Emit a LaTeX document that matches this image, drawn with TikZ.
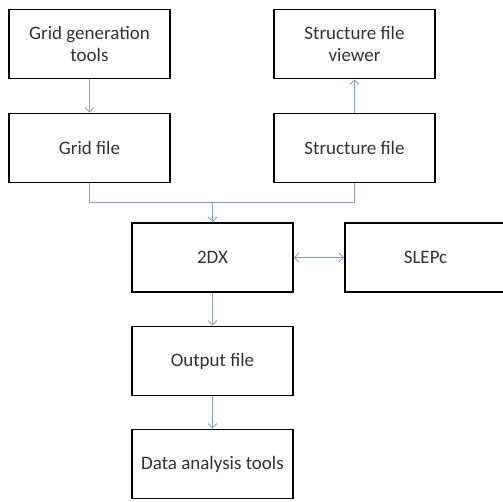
\documentclass[tikz,border=0pt]{standalone}
\usepackage{fontspec}
\setmainfont{Carlito}
\usetikzlibrary{arrows.meta}
\definecolor{conn}{RGB}{135,162,205}
\definecolor{txt}{RGB}{50,50,50}
\tikzset{
  box/.style={draw=black, line width=1.8pt, minimum width=161pt, minimum height=69pt,
    inner sep=2pt, align=center, font=\fontsize{19}{22}\selectfont, text=txt},
  conn/.style={draw=conn, line width=0.8pt},
  arr/.style={conn, -{Straight Barb[length=4.5pt,width=9pt,line width=0.8pt]}},
  darr/.style={conn, {Straight Barb[length=4.5pt,width=9pt,line width=0.8pt]}-{Straight Barb[length=4.5pt,width=9pt,line width=0.8pt]}}
}
\begin{document}
\begin{tikzpicture}[x=1pt,y=-1pt]
\useasboundingbox (0,0) rectangle (503,502);
\clip (0,0) rectangle (503,502);
\node[box] (gg) at (89.5,44) {Grid generation\\tools};
\node[box] (sv) at (354.5,44) {Structure file\\viewer};
\node[box] (gf) at (89.5,148) {Grid file};
\node[box] (sf) at (354.5,148) {Structure file};
\node[box] (dx) at (212.5,257.5) {2DX};
\node[box] (sl) at (425.5,257.5) {SLEPc};
\node[box] (of) at (212.5,361) {Output file};
\node[box] (da) at (212.5,464) {Data analysis tools};
\coordinate (bus) at (212.5,202);
\draw[arr] (gg) -- (gf);
\draw[arr] (sf) -- (sv);
\draw[conn] (gf.south) |- (bus);
\draw[conn] (sf.south) |- (bus);
\draw[arr] (bus) -- (dx.north);
\draw[darr] (dx.east) -- (sl.west);
\draw[arr] (dx) -- (of);
\draw[arr] (of) -- (da);
\end{tikzpicture}
\end{document}
